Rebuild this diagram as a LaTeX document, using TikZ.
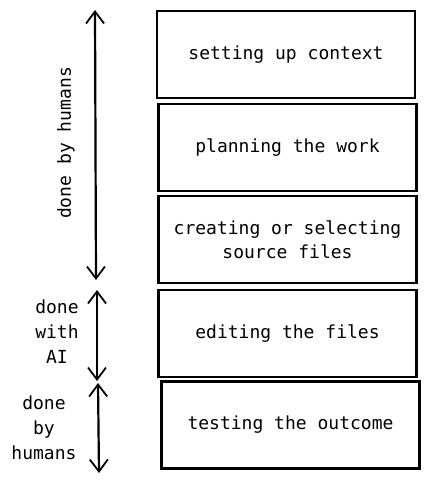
\documentclass[tikz,border=0pt]{standalone}
\usepackage{fontspec}
\setmonofont{DejaVu Sans Mono}
\usetikzlibrary{arrows.meta}
\begin{document}
\begin{tikzpicture}[x=1pt,y=-1pt,
  stepbox/.style={draw=black,line width=2.2pt,minimum width=258pt,minimum height=87pt,
    font=\ttfamily\fontsize{18}{24}\selectfont,align=center,inner sep=0pt},
  span/.style={line width=2.2pt,{Straight Barb[length=12pt,width=18pt,line width=1.8pt]}-{Straight Barb[length=12pt,width=18pt,line width=1.8pt]}},
  lbl/.style={font=\ttfamily\fontsize{18}{25}\selectfont,align=center,inner sep=0pt}]
\useasboundingbox (0,0) rectangle (430,485);
\node[stepbox] (b1) at (286,54.5) {setting up context};
\node[stepbox] (b2) at (287.5,147.5) {planning the work};
\node[stepbox] (b3) at (287.5,239.5) {creating or selecting\\source files};
\node[stepbox] (b4) at (287.5,333.5) {editing the files};
\node[stepbox] (b5) at (290.5,425) {testing the outcome};
\coordinate (a1t) at (95,10);
\coordinate (a1b) at (96,280);
\coordinate (a2t) at (97,290);
\coordinate (a2b) at (97,381);
\coordinate (a3t) at (98,383);
\coordinate (a3b) at (99,473);
\draw[span] (a1t) -- (a1b);
\draw[span] (a2t) -- (a2b);
\draw[span] (a3t) -- (a3b);
\node[lbl,rotate=90] (l1) at (66,143) {done by humans};
\node[lbl] (l2) at (57,332) {done\\with\\AI};
\node[lbl] (l3) at (44,428) {done\\by\\humans};
\end{tikzpicture}
\end{document}
